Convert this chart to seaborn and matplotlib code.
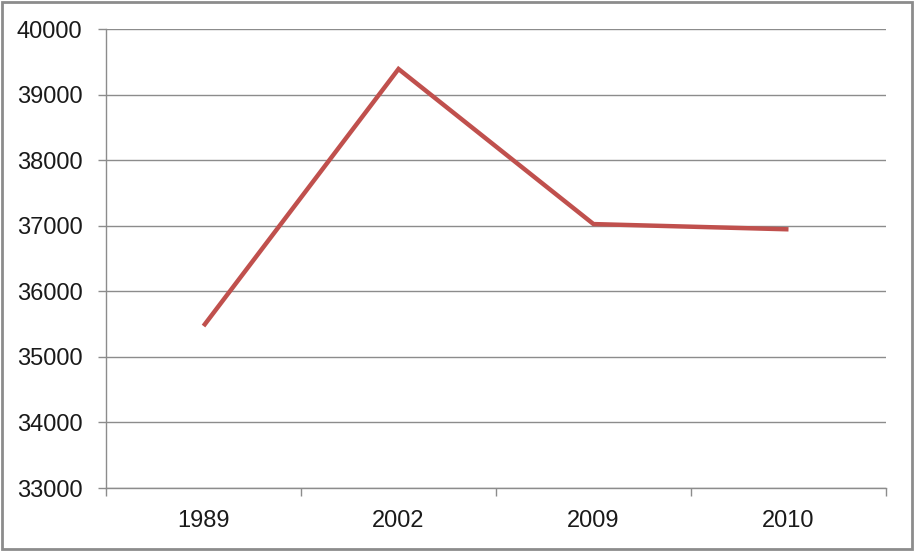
import matplotlib
matplotlib.use("Agg")
import matplotlib.pyplot as plt
import seaborn as sns
import pandas as pd
from matplotlib.patches import Rectangle

years = ["1989", "2002", "2009", "2010"]
values = [35470, 39390, 37025, 36945]
yticks = [33000, 34000, 35000, 36000, 37000, 38000, 39000, 40000]

sns.set_theme(style="white")
plt.rcParams['font.family'] = ['Liberation Sans', 'DejaVu Sans']

df = pd.DataFrame({"pos": list(range(len(years))), "value": values})

fig = plt.figure(figsize=(9.16, 5.51), dpi=100)
W, H = 916, 551
ax = fig.add_axes([106 / W, (H - 488) / H, (886 - 106) / W, (488 - 29) / H])

sns.lineplot(data=df, x="pos", y="value", ax=ax, color="#C0504D", linewidth=3.2,
             solid_capstyle="butt", solid_joinstyle="miter")

ax.set_xlim(-0.5, len(years) - 0.5)
ax.set_ylim(33000, 40000)
ax.set_yticks(yticks)
ax.set_yticklabels([str(v) for v in yticks])
ax.set_xticks(range(len(years)))
ax.set_xticklabels(years)
ax.set_xticks([i - 0.5 for i in range(len(years) + 1)], minor=True)
ax.set_xlabel("")
ax.set_ylabel("")

ax.grid(axis="y", color="#8c8c8c", linewidth=1.0)
ax.set_axisbelow(True)
for s in ["top", "right"]:
    ax.spines[s].set_visible(False)
for s in ["left", "bottom"]:
    ax.spines[s].set_color("#8c8c8c")
    ax.spines[s].set_linewidth(1.0)

ax.tick_params(axis="y", which="major", length=6, width=1, color="#8c8c8c",
               pad=11, labelsize=17, labelcolor="#1a1a1a", left=True)
ax.tick_params(axis="x", which="major", length=0, pad=16, labelsize=17,
               labelcolor="#1a1a1a")
ax.tick_params(axis="x", which="minor", length=6, width=1, color="#8c8c8c",
               bottom=True)

fig.patches.append(Rectangle((0.002, 0.003), 0.994, 0.993, transform=fig.transFigure,
                             fill=False, edgecolor="#8c8c8c", linewidth=2.0))

fig.savefig("out.png", dpi=100)
